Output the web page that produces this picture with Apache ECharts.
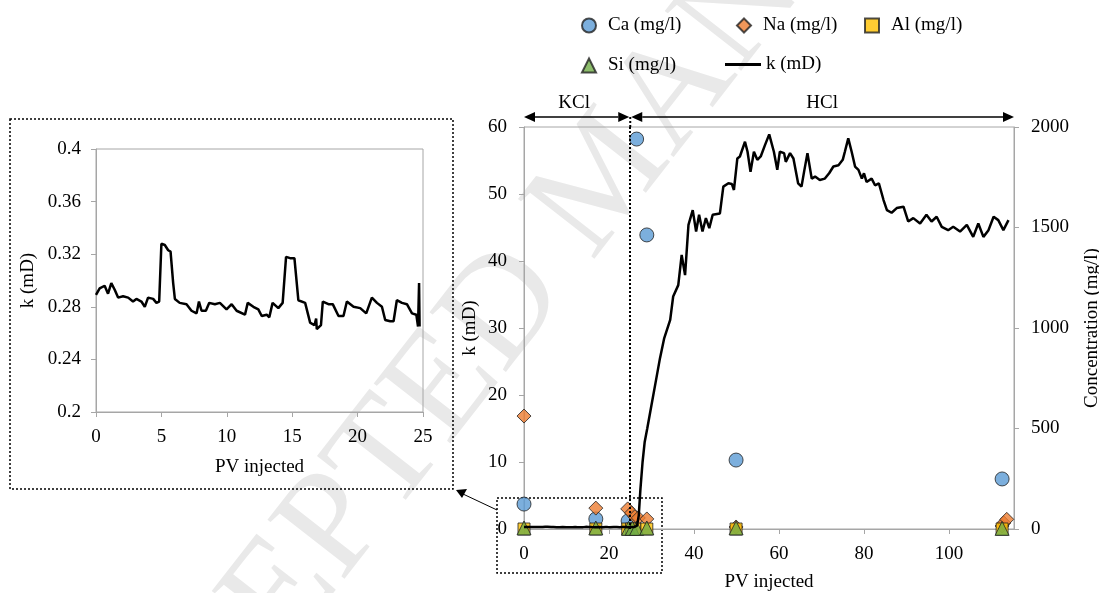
<!DOCTYPE html>
<html>
<head>
<meta charset="utf-8">
<script src="https://cdn.jsdelivr.net/npm/echarts@6/dist/echarts.min.js"></script>
<style>
html,body{margin:0;padding:0;background:#fff}
#main{width:1099px;height:593px}
</style>
</head>
<body>
<div id="main"></div>
<script>
// inset: k during KCl injection (0-25 PV)
var insetPv = [0,0.28,0.66,0.92,1.17,1.43,1.69,2.07,2.46,2.83,3.09,3.47,3.73,3.98,4.37,4.62,4.83,5.0,5.26,5.52,5.7,5.9,6.03,6.4,6.92,7.3,7.69,7.87,8.07,8.4,8.66,9.09,9.47,9.98,10.37,10.75,11.39,11.6,12.03,12.41,12.67,13.05,13.25,13.5,13.94,14.27,14.53,14.84,15.17,15.47,15.99,16.37,16.7,16.83,16.88,17.2,17.34,17.77,18.1,18.54,18.92,19.18,19.69,20.2,20.66,21.09,21.48,21.86,22.11,22.5,22.75,23.0,23.39,23.77,24.16,24.49,24.62,24.7,24.74];
var insetK = [0.289,0.294,0.296,0.290,0.298,0.293,0.287,0.288,0.287,0.284,0.286,0.284,0.280,0.287,0.286,0.283,0.284,0.328,0.327,0.323,0.322,0.298,0.286,0.283,0.282,0.277,0.275,0.284,0.277,0.277,0.283,0.282,0.283,0.278,0.282,0.277,0.274,0.283,0.280,0.278,0.273,0.274,0.272,0.283,0.279,0.283,0.318,0.317,0.317,0.285,0.283,0.268,0.266,0.271,0.263,0.266,0.284,0.282,0.282,0.273,0.273,0.284,0.280,0.279,0.275,0.287,0.283,0.280,0.270,0.269,0.269,0.285,0.283,0.282,0.275,0.274,0.265,0.298,0.265];

// k during HCl injection (25+ PV)
var hclPv = [25.2,26,26.6,27,27.4,27.9,28.4,29,30,31,32,33,34.4,35.1,36.3,37.1,37.9,
  38.7,39.7,40.5,41.2,42.0,42.8,43.6,44.4,46.1,46.9,48.1,48.9,49.4,50.2,50.8,52.0,52.6,53.3,54.1,54.9,
  55.7,56.7,57.7,58.8,59.6,60.2,61.2,61.6,62.6,63.4,64.5,65.3,65.9,66.7,67.7,68.5,69.6,70.8,71.8,72.8,
  74.0,75.0,75.5,76.3,77.1,77.9,78.7,79.5,80.0,80.6,81.8,82.6,83.5,
  84.6,85.4,86.5,87.7,89.3,90.4,91.6,93.2,94.7,95.9,97.1,98.3,99.8,101.0,102.6,104.2,105.7,106.9,108.1,109.3,110.5,111.6,112.8,114.0];
var hclK = [0.3,0.3,0.5,2,6,10,13,15,18.5,22,25.5,28.5,31.2,34.7,36.4,40.9,37.9,
  45.4,47.6,44.4,46.9,44.4,46.4,44.9,46.9,47.1,51.1,51.6,51.5,50.6,55.3,55.6,57.8,56.3,53.3,56.3,55.1,
  55.6,57.3,58.9,56.3,53.6,56.3,56.1,54.8,56.1,55.3,51.6,51.1,53.3,56.1,52.3,52.6,52.1,52.3,53.1,54.1,
  54.3,55.1,56.3,58.3,56.3,54.1,53.6,52.3,53.1,51.8,52.3,51.3,51.6,
  49.1,47.6,47.2,47.9,48.1,45.9,46.4,45.6,46.9,45.9,46.6,45.1,44.6,45.1,44.4,45.4,43.6,45.6,43.6,44.6,46.6,46.1,44.6,46.1];

// effluent concentrations (mg/l)
var caPv = [0,16.9,24.5,26.5,28.9,49.9,112.5];
var caConc = [124,50,40,1940,1463,343,249];
var naPv = [0,16.9,24.4,25.3,26.1,26.9,28.9,49.9,112.5,112.9,113.6];
var naConc = [562,104,100,80,61,55,50,10,15,30,48];
var alPv = [0,16.9,24.4,25.3,26.1,28.9,49.9,112.5];
var alConc = [0,0,0,0,0,0,0,0];
var siPv = [0,16.9,24.6,25.5,26.5,28.9,49.9,112.5];
var siConc = [5,5,3,3,3,5,5,3];

function pairs(xs, ys){ return xs.map(function(x,i){ return [x, ys[i]]; }); }

var FONT = 'Liberation Serif';
var AX = '#a6a6a6';

function lbl(margin){
  return {fontFamily: FONT, fontSize: 19, color: '#000', margin: margin,
    formatter: function(v){ return String(v); }};
}

function valAxis(o){
  var base = {
    type: 'value',
    axisLine: {show: true, lineStyle: {color: AX, width: 1}},
    axisTick: {show: true, length: 5, lineStyle: {color: AX}},
    splitLine: {show: false},
    axisLabel: lbl(17),
    nameLocation: 'middle',
    nameTextStyle: {fontFamily: FONT, fontSize: 19, color: '#000'}
  };
  for (var k in o) base[k] = o[k];
  return base;
}

function leg(item, left, top, w, h){
  return {
    data: [item], left: left, top: top, padding: 0,
    itemWidth: w || 14, itemHeight: h || 14,
    textStyle: {fontFamily: FONT, fontSize: 19, color: '#000', padding: [0,0,0, w ? 0 : 7]},
    selectedMode: false
  };
}

function dot(name, sym, size, color, xs, ys){
  return {
    name: name, type: 'scatter', xAxisIndex: 0, yAxisIndex: 1,
    symbol: sym, symbolSize: size, clip: false, z: 2,
    itemStyle: {color: color, borderColor: '#222', borderWidth: 1},
    data: pairs(xs, ys)
  };
}

var chart = echarts.init(document.getElementById('main'));
var xLbl = lbl(16);
xLbl.showMaxLabel = false;
var option = {
  animation: false,
  backgroundColor: '#fff',
  grid: [
    {left: 524, right: 85, top: 127, bottom: 64, show: true, borderColor: AX, borderWidth: 1,
      containLabel: false, outerBoundsMode: 'none'},
    {left: 96, right: 676, top: 149, bottom: 181, show: true, borderColor: AX, borderWidth: 1,
      containLabel: false, outerBoundsMode: 'none'}
  ],
  legend: [
    leg('Ca (mg/l)', 581, 16),
    leg('Na (mg/l)', 736, 16),
    leg('Al (mg/l)', 864, 16),
    leg('Si (mg/l)', 581, 56),
    leg({name: 'k (mD)', icon: 'rect'}, 725, 55, 36, 3)
  ],
  xAxis: [
    valAxis({gridIndex: 0, min: 0, max: 115.3, interval: 20, name: 'PV injected', nameGap: 44, axisLabel: xLbl}),
    valAxis({gridIndex: 1, min: 0, max: 25, interval: 5, name: 'PV injected', nameGap: 46, axisLabel: lbl(16)})
  ],
  yAxis: [
    valAxis({gridIndex: 0, min: 0, max: 60, interval: 10, name: 'k (mD)', nameGap: 44}),
    valAxis({gridIndex: 0, position: 'right', min: 0, max: 2000, interval: 500, name: 'Concentration (mg/l)', nameGap: 69, axisLabel: lbl(17)}),
    valAxis({gridIndex: 1, min: 0.2, max: 0.4, interval: 0.04, name: 'k (mD)', nameGap: 58, axisLabel: lbl(15)})
  ],
  series: [
    dot('Ca (mg/l)', 'circle', 14, '#5b9bd5', caPv, caConc),
    dot('Na (mg/l)', 'diamond', 14, '#ed7d31', naPv, naConc),
    dot('Al (mg/l)', 'rect', 12, '#ffc000', alPv, alConc),
    dot('Si (mg/l)', 'triangle', 14, '#70ad47', siPv, siConc),
    {
      name: 'k (mD)', type: 'line', xAxisIndex: 0, yAxisIndex: 0, z: 3,
      symbol: 'none', showSymbol: false,
      lineStyle: {color: '#000', width: 2.5},
      itemStyle: {color: '#000'},
      data: pairs(insetPv.concat(hclPv), insetK.concat(hclK)),
      markLine: {
        silent: true, symbol: 'none', label: {show: false},
        lineStyle: {color: '#000', type: [2, 2], width: 2},
        data: [{xAxis: 25}]
      }
    },
    {
      name: 'k inset', type: 'line', xAxisIndex: 1, yAxisIndex: 2,
      symbol: 'none', showSymbol: false,
      lineStyle: {color: '#000', width: 2.5},
      data: pairs(insetPv, insetK)
    }
  ]
};
chart.setOption(option);

// annotations: brine stages, zoom boxes, watermark
var xa = chart.convertToPixel({xAxisIndex: 0}, 0);
var xb = chart.convertToPixel({xAxisIndex: 0}, 25);
var xc = chart.convertToPixel({xAxisIndex: 0}, 115.3);
var ay = 117;

function arrow(x1, x2, y){
  var h = 5, l = 11;
  return [
    {type: 'line', shape: {x1: x1 + l, y1: y, x2: x2 - l, y2: y}, style: {stroke: '#000', lineWidth: 1.5}},
    {type: 'polygon', shape: {points: [[x1, y], [x1 + l, y - h], [x1 + l, y + h]]}, style: {fill: '#000'}},
    {type: 'polygon', shape: {points: [[x2, y], [x2 - l, y - h], [x2 - l, y + h]]}, style: {fill: '#000'}}
  ];
}

var dash = {stroke: '#000', lineWidth: 1.5, lineDash: [2, 2], fill: null};
var g = [
  {type: 'text', z: -10, x: 608, y: 178, rotation: Math.PI * 52 / 180,
    style: {text: 'ACCEPTED MANUSCRIPT', fontFamily: FONT, fontSize: 148, fill: '#e9e9e9', align: 'center', verticalAlign: 'middle'}},
  {type: 'text', x: (xa + xb) / 2 - 3, y: 103, style: {text: 'KCl', align: 'center', verticalAlign: 'middle', font: '19px "Liberation Serif"', fill: '#000'}},
  {type: 'text', x: (xb + xc) / 2, y: 103, style: {text: 'HCl', align: 'center', verticalAlign: 'middle', font: '19px "Liberation Serif"', fill: '#000'}},
  {type: 'line', shape: {x1: xb, y1: ay, x2: xb, y2: 127}, style: {stroke: '#000', lineWidth: 2, lineDash: [2, 2]}},
  {type: 'rect', shape: {x: 10, y: 119, width: 443, height: 370}, style: dash},
  {type: 'rect', shape: {x: 497, y: 498, width: 165, height: 75}, style: dash},
  {type: 'line', shape: {x1: 497, y1: 510, x2: 463, y2: 494}, style: {stroke: '#000', lineWidth: 1}},
  {type: 'polygon', shape: {points: [[456, 490], [467, 489], [462, 498]]}, style: {fill: '#000'}}
].concat(arrow(xa, xb - 1, ay), arrow(xb + 1, xc, ay));

chart.setOption({graphic: g});
</script>
</body>
</html>
